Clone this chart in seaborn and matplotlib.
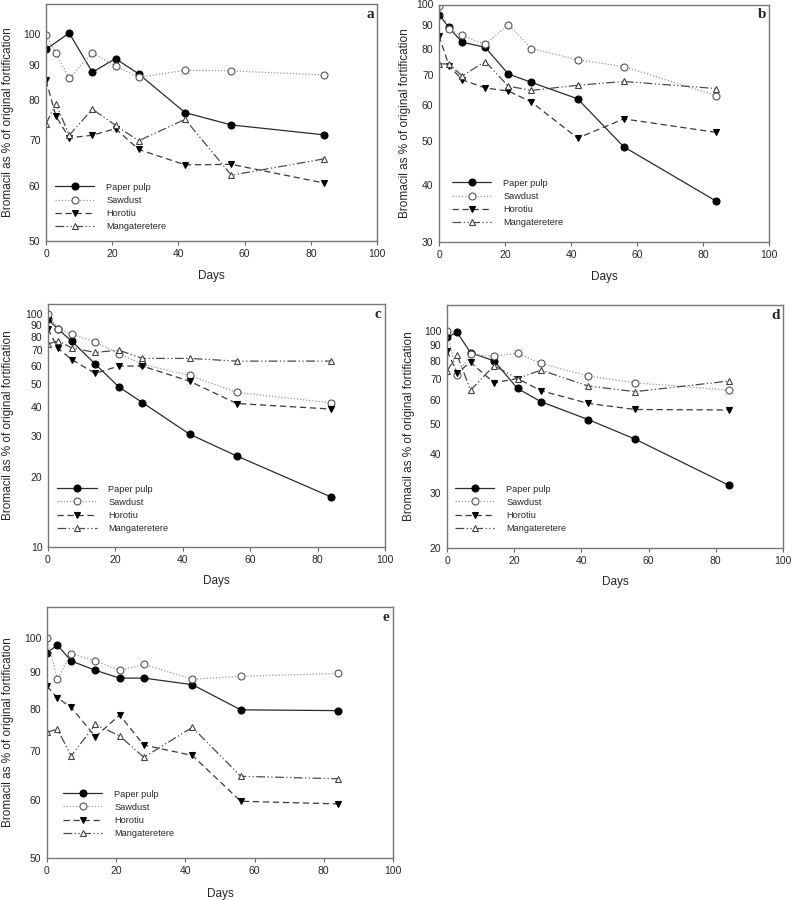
import numpy as np
import pandas as pd
import seaborn as sns
import matplotlib.pyplot as plt
from matplotlib.ticker import NullLocator, NullFormatter

days = [0, 3, 7, 14, 21, 28, 42, 56, 84]
series = ['Paper pulp', 'Sawdust', 'Horotiu', 'Mangateretere']

# panel a
a_paper = [94.9, np.nan, 100.2, 87.9, 92.0, 87.4, 76.8, 73.7, 71.3]
a_sawdust = [99.4, 93.6, 86.1, 93.8, 89.8, 86.4, 88.5, 88.3, 87.1]
a_horotiu = [85.6, 75.9, 70.6, 71.2, 72.8, 67.9, 64.5, 64.6, 60.7]
a_manga = [74.0, 79.1, 71.2, 77.7, 73.6, 69.9, 75.1, 62.3, 65.8]

# panel b
b_paper = [95.0, 89.0, 82.6, 80.5, 70.3, 67.4, 62.0, 48.6, 36.9]
b_sawdust = [99.3, 88.1, 85.5, 81.7, 90.3, 80.0, 75.6, 73.0, 63.0]
b_horotiu = [85.4, 73.4, 68.3, 65.5, 64.5, 61.0, 50.8, 56.0, 52.3]
b_manga = [74.0, 74.0, 69.6, 74.9, 66.1, 64.7, 66.4, 67.7, 65.3]

# panel c
c_paper = [95.2, 86.0, 76.6, 61.0, 48.7, 41.7, 30.5, 24.6, 16.4]
c_sawdust = [100.0, 86.2, 81.8, 76.0, 67.7, 60.8, 54.5, 46.1, 41.6]
c_horotiu = [86.2, 71.2, 63.8, 55.6, 59.8, 59.8, 51.5, 41.3, 39.1]
c_manga = [74.3, 76.8, 71.6, 68.4, 70.0, 64.5, 64.5, 62.8, 62.8]

# panel d
d_paper = [95.3, 98.8, 85.0, 80.0, 65.2, 59.1, 51.8, 44.8, 31.8]
d_sawdust = [99.7, 72.0, 83.9, 82.9, 84.6, 78.5, 71.5, 68.0, 64.4]
d_horotiu = [86.1, 73.3, 79.1, 68.0, 70.2, 64.1, 58.4, 55.8, 55.6]
d_manga = [74.2, 83.5, 64.4, 77.2, 70.2, 74.7, 66.4, 63.7, 68.9]

# panel e
e_paper = [95.5, 97.9, 93.1, 90.4, 88.2, 88.2, 86.4, 79.8, 79.6]
e_sawdust = [100.0, 87.9, 95.3, 93.1, 90.4, 92.1, 87.9, 88.7, 89.5]
e_horotiu = [86.0, 82.9, 80.4, 73.3, 78.5, 71.4, 69.1, 59.8, 59.3]
e_manga = [74.3, 75.1, 69.0, 76.2, 73.5, 68.7, 75.5, 64.7, 64.2]

styles = {
    'Paper pulp': dict(color='#2b2b2b', marker='o', mfc='black', mec='black', ls='-'),
    'Sawdust': dict(color='#9a9a9a', marker='o', mfc='white', mec='#555555', ls=(0, (1, 1.5))),
    'Horotiu': dict(color='#3a3a3a', marker='v', mfc='black', mec='black', ls=(0, (5, 3))),
    'Mangateretere': dict(color='#4a4a4a', marker='^', mfc='white', mec='#444444', ls=(0, (7, 2, 1, 2, 1, 2))),
}

sns.set_theme(style='ticks')
plt.rcParams['font.family'] = ['Liberation Sans', 'DejaVu Sans']

fig = plt.figure(figsize=(7.92, 9), dpi=100)


def panel(rect, vals, ylim, yticks, letter, leg_pos, xl_off, yl_off):
    ax = fig.add_axes(rect)
    df = pd.DataFrame({'Days': days * 4,
                       'value': sum(vals, []),
                       'series': np.repeat(series, len(days))})
    for s in series:
        st = styles[s]
        sub = df[df['series'] == s].dropna()
        sns.lineplot(data=sub, x='Days', y='value', ax=ax, label=s,
                     color=st['color'], marker=st['marker'], markersize=5,
                     markerfacecolor=st['mfc'], markeredgecolor=st['mec'],
                     markeredgewidth=0.8, linestyle=st['ls'], linewidth=0.9)
    ax.set_yscale('log')
    ax.set_xlim(0, 100)
    ax.set_ylim(*ylim)
    ax.set_xticks([0, 20, 40, 60, 80, 100])
    ax.set_yticks(yticks)
    ax.set_yticklabels([str(t) for t in yticks])
    ax.yaxis.set_minor_locator(NullLocator())
    ax.yaxis.set_minor_formatter(NullFormatter())
    ax.tick_params(axis='x', length=3, width=0.8, color='#666666', labelsize=7.5, pad=3, direction='out')
    ax.tick_params(axis='y', length=0, labelsize=7.5, pad=4)
    for sp in ax.spines.values():
        sp.set_visible(True)
        sp.set_color('#777777')
        sp.set_linewidth(1.0)
    ax.set_xlabel('Days', fontsize=8.5)
    ax.set_ylabel('Bromacil as % of original fortification', fontsize=8.5)
    ax.xaxis.set_label_coords(0.5, xl_off)
    ax.yaxis.set_label_coords(yl_off, 0.5)
    ax.text(0.99, 0.985, letter, transform=ax.transAxes, ha='right', va='top',
            fontsize=11, fontweight='bold', family='Liberation Serif')
    ax.legend(loc='lower left', bbox_to_anchor=leg_pos, frameon=False, fontsize=6.6,
              handlelength=4.3, handletextpad=1.3, labelspacing=0.45,
              borderpad=0, borderaxespad=0)
    return ax


panel([0.0581, 0.7322, 0.418, 0.2633], [a_paper, a_sawdust, a_horotiu, a_manga],
      (50, 110.4), [50, 60, 70, 80, 90, 100], 'a', (0.027, 0.042), -0.122, -0.097)
panel([0.5543, 0.7311, 0.4167, 0.2639], [b_paper, b_sawdust, b_horotiu, b_manga],
      (30, 100), [30, 40, 50, 60, 70, 80, 90, 100], 'b', (0.039, 0.063), -0.122, -0.085)
panel([0.0606, 0.3922, 0.4255, 0.27], [c_paper, c_sawdust, c_horotiu, c_manga],
      (10, 110.4), [10, 20, 30, 40, 50, 60, 70, 80, 90, 100], 'c', (0.027, 0.058), -0.115, -0.101)
panel([0.5644, 0.3911, 0.4242, 0.27], [d_paper, d_sawdust, d_horotiu, d_manga],
      (20, 121), [20, 30, 40, 50, 60, 70, 80, 90, 100], 'd', (0.024, 0.062), -0.115, -0.095)
panel([0.0593, 0.0467, 0.4369, 0.2789], [e_paper, e_sawdust, e_horotiu, e_manga],
      (50, 110.4), [50, 60, 70, 80, 90, 100], 'e', (0.046, 0.08), -0.12, -0.095)

fig.savefig('out.png', dpi=100)
